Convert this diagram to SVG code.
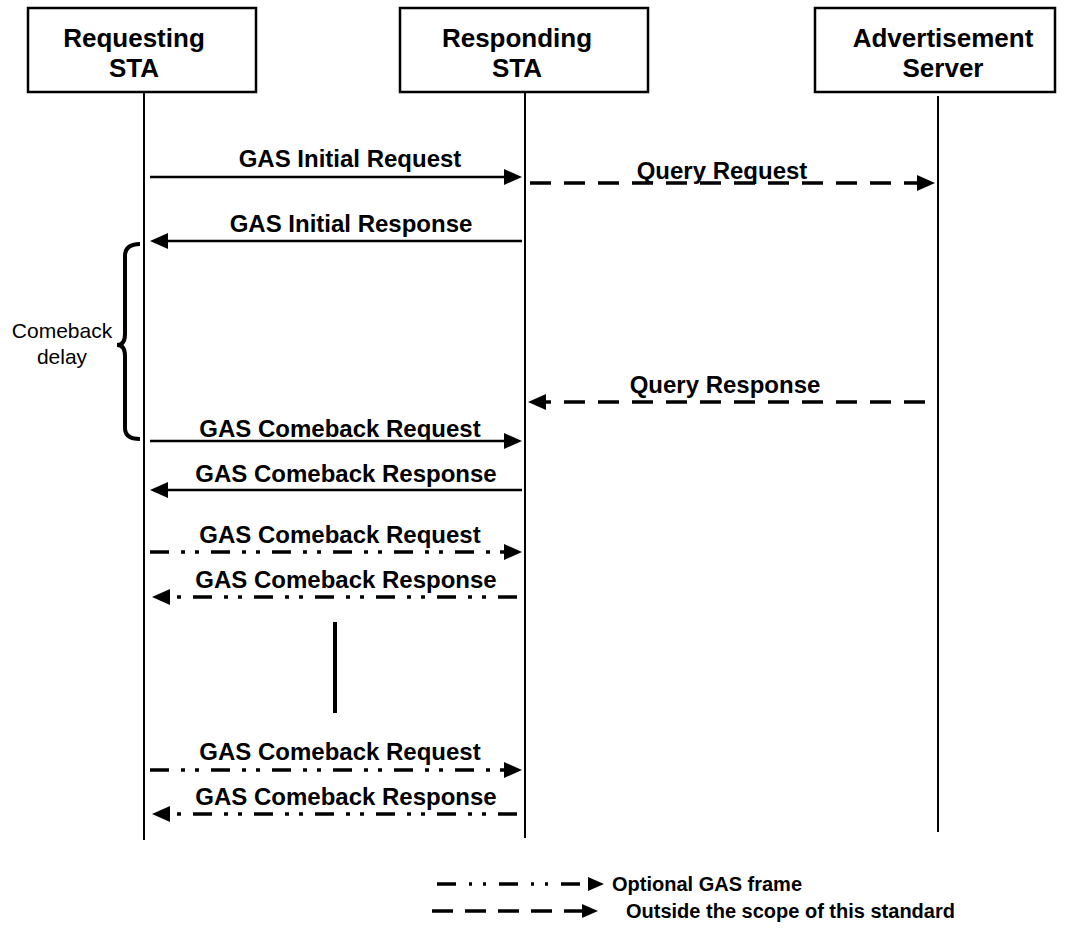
<svg xmlns="http://www.w3.org/2000/svg" width="1066" height="929" viewBox="0 0 1066 929">
<style>
.box{fill:#fff;stroke:#000;stroke-width:2.5}
.life{stroke:#000;stroke-width:2;fill:none}
.hdr{font-family:"Liberation Sans",Arial,sans-serif;font-weight:bold;font-size:26px;text-anchor:middle;fill:#000}
.lbl{font-family:"Liberation Sans",Arial,sans-serif;font-weight:bold;font-size:24px;text-anchor:middle;fill:#000}
.leg{font-family:"Liberation Sans",Arial,sans-serif;font-weight:bold;font-size:20px;fill:#000}
.note{font-family:"Liberation Sans",Arial,sans-serif;font-size:21px;text-anchor:middle;fill:#000}
.solid{stroke:#000;stroke-width:2.5;fill:none;marker-end:url(#ah)}
.dash{stroke:#000;stroke-width:3.5;fill:none;stroke-dasharray:21 13;marker-end:url(#ah)}
.opt{stroke:#000;stroke-width:3.5;fill:none;stroke-dasharray:19 12 4 10 4 12;marker-end:url(#ah)}
.optl{stroke:#000;stroke-width:3.5;fill:none;stroke-dasharray:19 13 3 11 3 13;marker-end:url(#ahs)}
.dashl{stroke:#000;stroke-width:3.5;fill:none;stroke-dasharray:21 12;marker-end:url(#ahs)}
</style>
<defs>
<marker id="ah" markerUnits="userSpaceOnUse" markerWidth="18" markerHeight="16" refX="2" refY="8" orient="auto">
<path d="M0,0 L18,8 L0,16 z" fill="#000"/>
</marker>
<marker id="ahs" markerUnits="userSpaceOnUse" markerWidth="16" markerHeight="14" refX="2" refY="7" orient="auto">
<path d="M0,0 L16,7 L0,14 z" fill="#000"/>
</marker>
</defs>
<rect width="1066" height="929" fill="#fff"/>

<g id="requesting-sta">
<rect class="box" x="28" y="8" width="228" height="84"/>
<text class="hdr" x="134" y="47">Requesting</text>
<text class="hdr" x="134" y="77">STA</text>
<line class="life" x1="144" y1="92" x2="144" y2="840"/>
</g>
<g id="responding-sta">
<rect class="box" x="400" y="8" width="248" height="84"/>
<text class="hdr" x="517" y="47">Responding</text>
<text class="hdr" x="517" y="77">STA</text>
<line class="life" x1="525" y1="92" x2="525" y2="838"/>
</g>
<g id="advertisement-server">
<rect class="box" x="815" y="8" width="240" height="84"/>
<text class="hdr" x="943" y="47">Advertisement</text>
<text class="hdr" x="943" y="77">Server</text>
<line class="life" x1="938" y1="96" x2="938" y2="832"/>
</g>

<g id="comeback-delay">
<path d="M140,244 Q125,244 125,256 L125,334 Q125,345 117,345 Q125,345 125,356 L125,428 Q125,439 140,439" fill="none" stroke="#000" stroke-width="4"/>
<text class="note" x="62" y="338">Comeback</text>
<text class="note" x="62" y="364">delay</text>
</g>

<g id="continuation">
<line x1="335" y1="622" x2="335" y2="713" stroke="#000" stroke-width="4"/>
</g>

<g id="connectors">
<line class="solid" x1="150" y1="177" x2="506" y2="177"/>
<text class="lbl" x="350" y="167">GAS Initial Request</text>
<line class="dash" x1="530" y1="183" x2="919" y2="183"/>
<text class="lbl" x="722" y="179">Query Request</text>
<line class="solid" x1="522" y1="241" x2="166" y2="241"/>
<text class="lbl" x="351" y="232">GAS Initial Response</text>
<line class="dash" x1="925" y1="402" x2="544" y2="402"/>
<text class="lbl" x="725" y="393">Query Response</text>
<line class="solid" x1="150" y1="441" x2="506" y2="441"/>
<text class="lbl" x="340" y="437">GAS Comeback Request</text>
<line class="solid" x1="522" y1="490" x2="166" y2="490"/>
<text class="lbl" x="346" y="482">GAS Comeback Response</text>
<line class="opt" x1="150" y1="552" x2="506" y2="552"/>
<text class="lbl" x="340" y="543">GAS Comeback Request</text>
<line class="opt" x1="517" y1="597" x2="168" y2="597"/>
<text class="lbl" x="346" y="588">GAS Comeback Response</text>
<line class="opt" x1="150" y1="770" x2="506" y2="770"/>
<text class="lbl" x="340" y="760">GAS Comeback Request</text>
<line class="opt" x1="517" y1="814" x2="168" y2="814"/>
<text class="lbl" x="346" y="805">GAS Comeback Response</text>
</g>

<g id="legend">
<line class="optl" x1="437" y1="884" x2="590" y2="884"/>
<text class="leg" x="612" y="891">Optional GAS frame</text>
<line class="dashl" x1="432" y1="911" x2="584" y2="911"/>
<text class="leg" x="626" y="918">Outside the scope of this standard</text>
</g>
</svg>
